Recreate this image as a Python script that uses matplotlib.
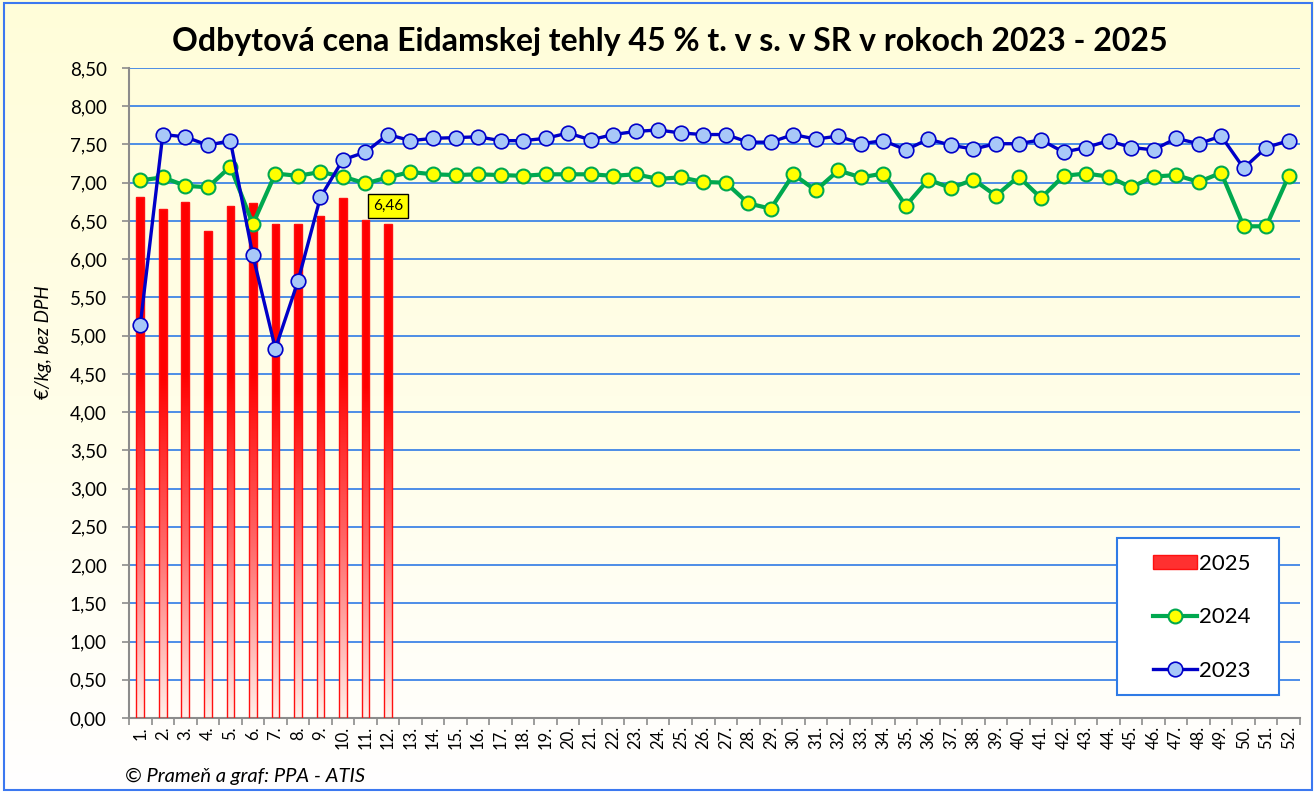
import numpy as np
import matplotlib
matplotlib.use('Agg')
import matplotlib.pyplot as plt
from matplotlib.ticker import FuncFormatter, MultipleLocator, FixedLocator
from matplotlib.patches import Rectangle, Patch
from matplotlib.lines import Line2D
from matplotlib.colors import LinearSegmentedColormap

weeks = [f"{i}." for i in range(1, 53)]
y2025 = [6.81, 6.66, 6.75, 6.37, 6.70, 6.74, 6.46, 6.46, 6.56, 6.80, 6.51, 6.46]
y2024 = [7.03, 7.07, 6.96, 6.94, 7.21, 6.46, 7.12, 7.09, 7.14, 7.08, 6.99, 7.07,
         7.14, 7.11, 7.10, 7.11, 7.10, 7.09, 7.11, 7.11, 7.11, 7.09, 7.11, 7.05,
         7.07, 7.01, 7.00, 6.73, 6.66, 7.11, 6.90, 7.16, 7.07, 7.12, 6.70, 7.04,
         6.93, 7.04, 6.83, 7.08, 6.80, 7.09, 7.12, 7.08, 6.94, 7.08, 7.10, 7.01,
         7.13, 6.43, 6.43, 7.09]
y2023 = [5.14, 7.63, 7.60, 7.49, 7.55, 6.05, 4.83, 5.71, 6.81, 7.30, 7.40, 7.63,
         7.55, 7.58, 7.59, 7.60, 7.55, 7.55, 7.58, 7.65, 7.56, 7.63, 7.67, 7.69,
         7.65, 7.63, 7.63, 7.53, 7.53, 7.63, 7.57, 7.61, 7.51, 7.55, 7.43, 7.57,
         7.49, 7.44, 7.51, 7.51, 7.56, 7.40, 7.46, 7.55, 7.46, 7.43, 7.58, 7.51,
         7.61, 7.19, 7.46, 7.55]
series_labels = ["2025", "2024", "2023"]

plt.rcParams['font.family'] = ['Lato', 'DejaVu Sans']

W, H = 1314, 792
fig = plt.figure(figsize=(W / 100, H / 100), dpi=100)

# background gradient (yellow top -> white bottom)
bg = fig.add_axes([0, 0, 1, 1], zorder=-10)
grad = np.linspace(0, 1, 256).reshape(-1, 1)
bgcmap = LinearSegmentedColormap.from_list('bg', ['#FFFFFF', '#FFFEE8', '#FFFDD9'])
bg.imshow(grad, aspect='auto', cmap=bgcmap, extent=[0, 1, 0, 1], origin='lower')
bg.set_axis_off()
bg.add_patch(Rectangle((4 / W, 2 / H), 1 - 6 / W, 1 - 5 / H, transform=fig.transFigure,
                       fill=False, edgecolor='#3C78F0', lw=1.5, clip_on=False))

ax = fig.add_axes([129 / W, 1 - 718 / H, (1300 - 129) / W, (718 - 68) / H])
ax.patch.set_alpha(0)

x = np.arange(1, len(weeks) + 1)

# 2025 bars with gradient fill
bars = ax.bar(x[:len(y2025)], y2025, width=0.34, color='none', edgecolor='#FF1010',
              lw=1.0, zorder=3)
barcmap = LinearSegmentedColormap.from_list('bar', ['#FFF0EA', '#FF6A6A', '#FF0000', '#FF0000'])
for b in bars:
    x0, w, h = b.get_x(), b.get_width(), b.get_height()
    im = ax.imshow(grad, aspect='auto', cmap=barcmap, extent=[x0, x0 + w, 0, h],
                   origin='lower', zorder=2.5)
    im.set_clip_path(b)

ax.plot(x, y2024, color='#00A84F', lw=3.0, marker='o', ms=10, mfc='#FFFF00',
        mec='#00A84F', mew=1.5, zorder=4)
ax.plot(x, y2023, color='#0000C8', lw=2.4, marker='o', ms=10.5, mfc='#A8C8F8',
        mec='#0000C8', mew=1.2, zorder=5)

ax.set_xlim(0.5, len(weeks) + 0.5)
ax.set_ylim(0, 8.5)
ax.yaxis.set_major_locator(MultipleLocator(0.5))
ax.yaxis.set_major_formatter(FuncFormatter(lambda v, p: f"{v:.2f}".replace('.', ',')))
ax.grid(axis='y', color='#2F7BE6', lw=1.2, zorder=1)
ax.set_axisbelow(True)
ax.set_xticks(x)
ax.set_xticklabels(weeks, rotation=90, fontsize=12)
ax.xaxis.set_minor_locator(FixedLocator(np.arange(0.5, len(weeks) + 1, 1)))
ax.tick_params(axis='x', which='major', length=0, pad=6)
ax.tick_params(axis='x', which='minor', length=5, color='#8C8C8C', width=1.2)
ax.tick_params(axis='y', length=5, color='#8C8C8C', width=1.2, labelsize=13.5, pad=11)
for s in ['top', 'right']:
    ax.spines[s].set_visible(False)
for s in ['left', 'bottom']:
    ax.spines[s].set_color('#8C8C8C')
    ax.spines[s].set_linewidth(1.5)

# data label
ax.annotate("6,46", (x[len(y2025) - 1], y2025[-1]), xytext=(0, 13), textcoords='offset points',
            ha='center', va='center', fontsize=11,
            bbox=dict(boxstyle='square,pad=0.3', fc='#FFFF00', ec='black', lw=1.0), zorder=6)

# legend box
ax.add_patch(Rectangle((1117 / W, 1 - 695 / H), (1279 - 1117) / W, (695 - 538) / H,
                       transform=fig.transFigure, facecolor='white', clip_on=False,
                       edgecolor='#2F7BE6', lw=1.5, zorder=9))
handles = [Patch(facecolor='#FF3030', edgecolor='#FF1010'),
           Line2D([], [], color='#00A84F', lw=3.0, marker='o', ms=10, mfc='#FFFF00', mec='#00A84F', mew=1.5),
           Line2D([], [], color='#0000C8', lw=2.4, marker='o', ms=10.5, mfc='#A8C8F8', mec='#0000C8', mew=1.2)]
leg = ax.legend(handles, series_labels, loc='upper left', bbox_to_anchor=(1153 / W, 1 - 554 / H),
                bbox_transform=fig.transFigure, frameon=False, fontsize=16,
                labelspacing=1.5, borderpad=0, handlelength=2.0, handleheight=0.6,
                handletextpad=0.05, borderaxespad=0)
leg.set_zorder(10)

fig.text(670 / W, 1 - 42 / H, "Odbytová cena Eidamskej tehly 45 % t. v s. v SR v rokoch 2023 - 2025",
         ha='center', va='center', fontsize=23, fontweight='bold')
fig.text(43 / W, 1 - 342 / H, "€/kg, bez DPH", rotation=90, ha='center', va='center',
         fontsize=13.5, style='italic')
fig.text(125 / W, 1 - 776 / H, "© Prameň a graf: PPA - ATIS", ha='left', va='center',
         fontsize=14.5, style='italic')

fig.savefig('out.png', dpi=100)
